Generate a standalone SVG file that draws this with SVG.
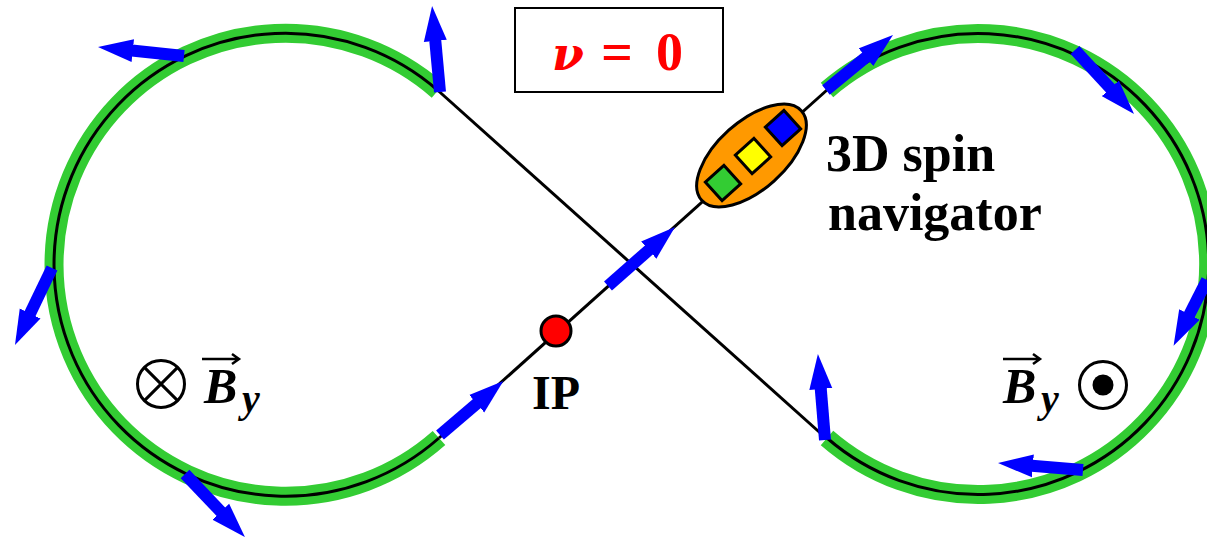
<svg xmlns="http://www.w3.org/2000/svg" width="1207" height="537" viewBox="0 0 1207 537">
<style>
.green{fill:none;stroke:#33cc33;stroke-width:19}
.track{fill:none;stroke:#000;stroke-width:3}
.arrow{stroke:#0000ff;stroke-width:12;marker-end:url(#head)}
.label{font-family:"Liberation Serif",serif;font-weight:bold;fill:#000}
.math{font-family:"Liberation Serif",serif;font-weight:bold;font-style:italic;fill:#000}
.red{font-family:"Liberation Serif",serif;font-weight:bold;fill:#ff0000}
.sq{stroke:#000;stroke-width:3}
.sym{fill:none;stroke:#000;stroke-width:3}
.over{fill:none;stroke:#000;stroke-width:2.500}
</style>
<defs>
<marker id="head" markerUnits="userSpaceOnUse" markerWidth="37" markerHeight="24" refX="1" refY="12" orient="auto">
<path d="M0 0.500L35 12L0 23.500Z" fill="#0000ff"/>
</marker>
</defs>
<g id="connectors">
<path class="green" d="M438 90.500A231.500 231.500 0 1 0 439 438"/>
<path class="green" d="M827 90A230.500 230.500 0 1 1 827 438"/>
<path class="track" d="M438 90.500A231.500 231.500 0 1 0 439 438"/>
<path class="track" d="M827 90A230.500 230.500 0 1 1 827 438"/>
<path class="track" d="M438 90.500L827 439"/>
<path class="track" d="M439 438L827 90"/>
</g>
<g id="spin-arrows">
<line class="arrow" x1="440" y1="92" x2="435.200" y2="39.900"/>
<line class="arrow" x1="184" y1="56" x2="131.800" y2="50.500"/>
<line class="arrow" x1="52" y1="268" x2="29.700" y2="314.400"/>
<line class="arrow" x1="185" y1="474" x2="221.500" y2="512.400"/>
<line class="arrow" x1="440" y1="435" x2="477.500" y2="403"/>
<line class="arrow" x1="608" y1="286" x2="649.500" y2="249.400"/>
<line class="arrow" x1="826" y1="90" x2="866.700" y2="56.600"/>
<line class="arrow" x1="1075" y1="50" x2="1111" y2="89"/>
<line class="arrow" x1="1207" y1="280" x2="1189" y2="315.400"/>
<line class="arrow" x1="1083" y1="470" x2="1031.900" y2="465.800"/>
<line class="arrow" x1="825" y1="440" x2="820.700" y2="388"/>
</g>
<g id="nu-box">
<rect x="515" y="8" width="208" height="84" fill="#fff" stroke="#000" stroke-width="2"/>
<text x="552" y="70" font-size="46" font-family="DejaVu Serif,serif" font-weight="bold" font-style="italic" fill="#ff0000">ν</text>
<text class="red" x="601" y="71" font-size="56">=</text>
<text class="red" x="656" y="70" font-size="54">0</text>
</g>
<g id="spin-navigator">
<ellipse cx="751.500" cy="155.500" rx="67" ry="34" transform="rotate(-42 751.500 155.500)" fill="#ff9900" stroke="#000" stroke-width="3"/>
<rect class="sq" x="710.500" y="170.500" width="25" height="25" fill="#33cc33" transform="rotate(-42 723 183)"/>
<rect class="sq" x="740.500" y="143.500" width="25" height="25" fill="#ffff00" transform="rotate(-42 753 156)"/>
<rect class="sq" x="770.500" y="115.500" width="25" height="25" fill="#0000ff" transform="rotate(-42 783 128)"/>
<text class="label" x="826" y="171" font-size="52">3D spin</text>
<text class="label" x="828" y="230" font-size="52">navigator</text>
</g>
<g id="ip">
<circle cx="556" cy="331" r="15" fill="#ff0000" stroke="#000" stroke-width="3"/>
<text class="label" x="532" y="409" font-size="48">IP</text>
</g>
<g id="field-left">
<circle class="sym" cx="161" cy="384" r="23.500"/>
<path class="sym" d="M144.400 367.400L177.600 400.600M177.600 367.400L144.400 400.600"/>
<path class="over" d="M202 359H239M232 354L239 359L232 364"/>
<text class="math" x="204" y="403" font-size="50">B</text>
<text class="math" x="242" y="412" font-size="40">y</text>
</g>
<g id="field-right">
<circle class="sym" cx="1103" cy="385" r="23.500"/>
<circle cx="1103" cy="385" r="10.500" fill="#000"/>
<path class="over" d="M1003 359H1040M1033 354L1040 359L1033 364"/>
<text class="math" x="1003" y="403" font-size="50">B</text>
<text class="math" x="1041" y="412" font-size="40">y</text>
</g>
</svg>
